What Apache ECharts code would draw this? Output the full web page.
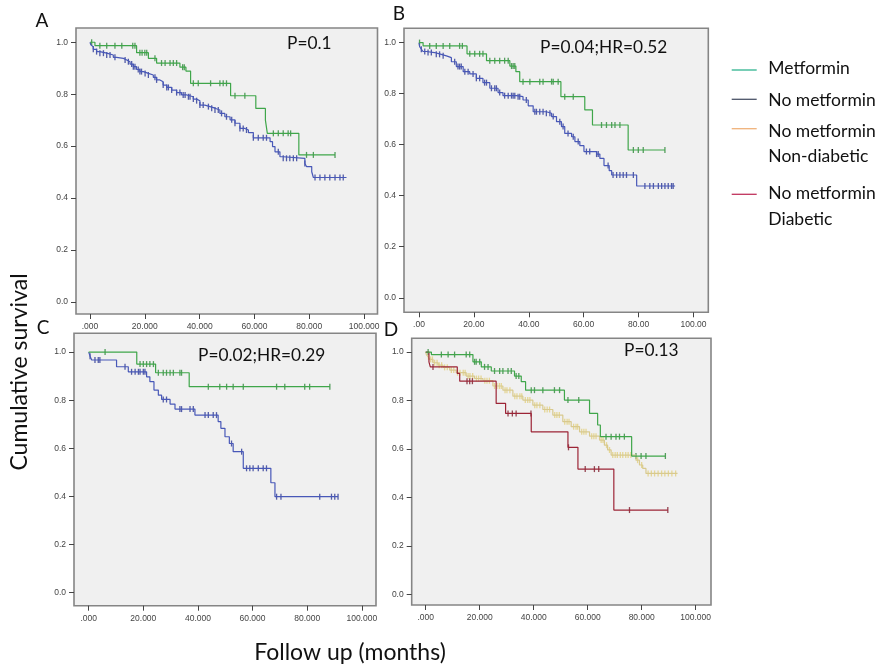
<!DOCTYPE html>
<html><head><meta charset="utf-8">
<script src="https://cdn.jsdelivr.net/npm/echarts@6/dist/echarts.min.js"></script>
<style>html,body{margin:0;padding:0;background:#fff}#c{width:878px;height:667px}</style>
</head><body><div id="c"></div>
<script>
// ---------- tick values ----------
const xTicks = [0, 20, 40, 60, 80, 100];
const yTicks = [0, 0.2, 0.4, 0.6, 0.8, 1.0];

// ---------- Panel A ----------
const A_met_t = [0, 1.8, 17.0, 21.3, 24.3, 32.8, 35.0, 36.7, 51.3, 60.5, 64.0, 64.7, 76.2, 89.4];
const A_met_s = [1.0, 0.987, 0.960, 0.938, 0.920, 0.904, 0.889, 0.842, 0.794, 0.745, 0.700, 0.649, 0.566, 0.566];
const A_met_c = [0.6, 3.6, 6.1, 9.1, 11.6, 15.6, 16.4, 18.2, 19.0, 20.0, 20.7, 23.7, 26.1, 27.4, 29.2, 30.4, 31.6, 33.8, 34.4, 37.7, 39.5, 44.0, 47.4, 48.6, 49.8, 52.9, 56.5, 66.9, 68.7, 70.5, 72.3, 73.2, 79.0, 81.5, 89.4];
const A_no_t = [0, 0.3, 0.6, 1.2, 2.4, 3.6, 6.1, 8.5, 9.7, 12.2, 13.4, 14.6, 15.8, 17.0, 18.2, 19.5, 21.3, 23.1, 24.3, 25.5, 26.7, 28.0, 29.8, 31.6, 33.4, 35.3, 37.7, 38.9, 40.1, 41.9, 43.8, 45.6, 47.4, 49.2, 51.1, 52.9, 54.7, 56.5, 57.8, 59.6, 65.7, 66.6, 67.5, 69.3, 70.5, 78.4, 79.0, 80.9, 81.5, 93.6];
const A_no_s = [1.0, 0.99, 0.983, 0.973, 0.964, 0.958, 0.951, 0.942, 0.938, 0.932, 0.925, 0.916, 0.906, 0.895, 0.887, 0.880, 0.874, 0.865, 0.855, 0.848, 0.835, 0.826, 0.816, 0.806, 0.797, 0.790, 0.781, 0.775, 0.758, 0.752, 0.746, 0.739, 0.726, 0.713, 0.701, 0.688, 0.668, 0.662, 0.652, 0.632, 0.617, 0.598, 0.578, 0.559, 0.553, 0.533, 0.521, 0.501, 0.479, 0.479];
const A_no_c = [1.2, 2.4, 3.6, 4.9, 6.1, 7.3, 9.1, 12.8, 14.0, 15.2, 15.8, 16.4, 17.6, 18.2, 18.8, 20.1, 21.3, 23.7, 24.3, 26.7, 28.0, 28.6, 29.8, 31.6, 32.8, 34.0, 34.7, 35.9, 36.5, 37.7, 38.9, 40.1, 41.3, 43.2, 44.4, 45.6, 46.8, 48.0, 49.8, 51.7, 52.9, 54.7, 55.9, 57.1, 59.6, 61.4, 63.2, 64.4, 68.7, 70.5, 71.7, 72.9, 74.2, 75.4, 78.4, 82.1, 83.9, 85.7, 87.5, 89.4, 91.2, 92.4];

// ---------- Panel B ----------
const B_met_t = [0, 1.5, 17.5, 24.6, 33.1, 35.3, 36.7, 51.7, 60.4, 63.2, 76.2, 89.6];
const B_met_s = [1.0, 0.987, 0.956, 0.929, 0.908, 0.886, 0.847, 0.788, 0.736, 0.677, 0.579, 0.579];
const B_met_c = [0.2, 3.9, 6.3, 8.8, 11.2, 14.8, 15.8, 18.5, 20.3, 22.1, 23.3, 25.8, 27.6, 29.4, 31.2, 32.5, 33.7, 34.3, 34.9, 37.9, 40.4, 44.0, 45.2, 48.3, 48.9, 50.7, 53.1, 56.2, 66.5, 68.3, 70.2, 71.4, 73.2, 78.1, 79.9, 81.7, 89.6];
const B_no_t = [0, 0.24, 0.85, 1.46, 2.7, 5.7, 8.1, 10.0, 11.8, 13.6, 16.1, 18.5, 20.9, 23.3, 25.8, 28.8, 30.6, 35.5, 37.9, 39.8, 41.6, 46.4, 48.3, 50.1, 51.9, 53.1, 55.6, 56.8, 58.6, 60.1, 64.7, 65.9, 67.4, 69.3, 70.2, 79.3, 93.3];
const B_no_s = [1.0, 0.984, 0.974, 0.965, 0.961, 0.954, 0.948, 0.941, 0.925, 0.906, 0.886, 0.877, 0.860, 0.843, 0.821, 0.804, 0.792, 0.788, 0.775, 0.752, 0.729, 0.723, 0.710, 0.690, 0.671, 0.644, 0.631, 0.612, 0.596, 0.573, 0.563, 0.546, 0.518, 0.498, 0.481, 0.438, 0.438];
const B_no_c = [0.85, 2.1, 3.3, 4.5, 6.3, 7.5, 8.8, 13.0, 14.2, 14.8, 15.4, 16.7, 17.9, 19.7, 20.9, 22.1, 23.9, 24.6, 26.4, 27.6, 28.2, 29.4, 31.2, 32.5, 33.7, 34.3, 34.9, 36.1, 36.7, 39.1, 42.2, 42.8, 44.0, 45.2, 46.4, 47.7, 48.9, 51.3, 52.5, 54.3, 56.2, 58.0, 61.0, 62.2, 64.7, 65.3, 68.9, 70.7, 72.0, 73.2, 74.4, 75.6, 78.1, 82.3, 84.1, 85.4, 87.2, 88.4, 89.6, 90.8, 92.0, 92.6];

// ---------- Panel C ----------
const C_met_t = [0, 17.6, 24.5, 36.8, 88.3];
const C_met_s = [1.0, 0.950, 0.914, 0.856, 0.856];
const C_met_c = [6.0, 18.8, 20.0, 21.2, 22.4, 23.7, 25.5, 27.3, 28.5, 29.8, 31.0, 33.4, 34.0, 43.8, 48.0, 50.5, 52.9, 56.6, 68.8, 71.8, 79.1, 80.9, 88.3];
const C_no_t = [0, 0.5, 1.1, 10.2, 14.5, 21.2, 22.4, 23.9, 25.5, 26.7, 29.8, 31.6, 38.9, 47.4, 48.4, 49.9, 51.5, 52.9, 56.6, 66.7, 68.2, 91.3];
const C_no_s = [1.0, 0.983, 0.967, 0.939, 0.918, 0.897, 0.877, 0.842, 0.821, 0.803, 0.784, 0.763, 0.738, 0.711, 0.683, 0.648, 0.620, 0.586, 0.517, 0.457, 0.399, 0.399];
const C_no_c = [0.5, 2.3, 3.5, 4.1, 13.3, 15.7, 17.0, 18.2, 18.8, 20.0, 20.6, 27.3, 28.5, 33.4, 34.0, 37.1, 38.3, 42.6, 43.8, 45.6, 46.8, 52.3, 56.0, 57.8, 59.0, 60.2, 62.1, 63.9, 65.1, 68.8, 70.4, 84.6, 88.9, 90.1, 91.3];

// ---------- Panel D ----------
const D_met_t = [0, 2.1, 17.5, 20.6, 24.3, 32.9, 35.4, 37.0, 51.4, 60.7, 63.7, 64.7, 76.3, 88.8];
const D_met_s = [1.0, 0.990, 0.960, 0.939, 0.922, 0.901, 0.878, 0.843, 0.802, 0.747, 0.699, 0.651, 0.571, 0.571];
const D_met_c = [0.9, 5.8, 8.3, 10.7, 15.0, 16.3, 18.1, 18.7, 20.0, 21.8, 23.1, 25.5, 27.4, 28.6, 30.5, 31.7, 33.5, 34.5, 39.1, 40.3, 43.4, 47.7, 49.6, 52.7, 56.7, 66.8, 68.7, 70.5, 71.8, 73.6, 77.9, 79.8, 81.6, 88.8];
const D_nd_t = [0, 0.25, 0.86, 1.5, 2.7, 4.6, 6.4, 8.9, 11.3, 15.0, 18.1, 21.2, 24.9, 28.6, 32.3, 36.0, 39.7, 43.4, 47.1, 50.8, 53.9, 57.0, 60.7, 64.4, 66.2, 67.4, 68.7, 77.9, 79.2, 80.4, 81.6, 93.3];
const D_nd_s = [1.0, 0.990, 0.981, 0.970, 0.956, 0.946, 0.937, 0.926, 0.915, 0.901, 0.891, 0.882, 0.860, 0.843, 0.818, 0.802, 0.781, 0.763, 0.740, 0.713, 0.692, 0.671, 0.653, 0.637, 0.616, 0.596, 0.575, 0.554, 0.534, 0.520, 0.499, 0.499];
const D_nd_c = [1.0, 1.8, 2.5, 3.3, 4.2, 5.0, 5.9, 7.0, 8.0, 9.5, 10.4, 11.8, 12.7, 13.9, 14.6, 15.7, 16.4, 17.4, 18.8, 19.6, 20.5, 21.9, 22.7, 23.6, 25.5, 26.4, 27.3, 28.0, 29.4, 30.1, 31.2, 33.0, 33.8, 34.9, 35.6, 36.9, 37.8, 38.6, 40.4, 41.2, 42.3, 44.1, 45.0, 45.9, 47.8, 48.6, 49.5, 51.5, 52.4, 53.1, 54.8, 55.7, 56.3, 57.8, 58.6, 59.4, 61.5, 62.3, 63.1, 65.0, 65.7, 67.0, 68.1, 69.3, 70.2, 71.0, 72.1, 73.0, 74.1, 75.0, 76.0, 78.5, 80.0, 82.4, 83.6, 84.8, 86.1, 87.4, 88.6, 89.9, 91.2, 92.6];
const D_dm_t = [0, 1.2, 1.7, 11.7, 12.6, 26.1, 29.6, 39.1, 52.7, 56.4, 69.7, 89.7];
const D_dm_s = [1.0, 0.960, 0.939, 0.912, 0.880, 0.788, 0.747, 0.671, 0.607, 0.517, 0.348, 0.348];
const D_dm_c = [2.7, 15.3, 16.3, 17.3, 30.5, 32.1, 33.5, 39.0, 52.9, 59.1, 62.5, 64.1, 75.5, 89.7];

// ---------- text ----------
const panelLetters = ['A', 'B', 'C', 'D'];
const pTexts = ['P=0.1', 'P=0.04;HR=0.52', 'P=0.02;HR=0.29', 'P=0.13'];
const legendNames = ['Metformin', 'No metformin', 'No metformin\nNon-diabetic', 'No metformin\nDiabetic'];
const xTitle = 'Follow up (months)';
const yTitle = 'Cumulative survival';

// ---------- layout ----------
const panels = [
  {left: 76, top: 28, width: 301.5, height: 286, xmin: -5.11, xmax: 104.9, ymin: -0.047, ymax: 1.055, dec: 3},
  {left: 404, top: 28.3, width: 304.3, height: 284, xmin: -5.46, xmax: 105.4, ymin: -0.057, ymax: 1.056, dec: 2},
  {left: 74, top: 333.3, width: 302, height: 272.4, xmin: -5.38, xmax: 105.2, ymin: -0.054, ymax: 1.078, dec: 3},
  {left: 411.7, top: 338.3, width: 299.3, height: 266.7, xmin: -5.19, xmax: 105.7, ymin: -0.044, ymax: 1.057, dec: 3}
];

const GREEN = '#3fa64a', GREEN_C = '#2d8a38';
const BLUE = '#4858b8', BLUE_C = '#2b3796';
const BEIGE = '#d8c98e', BEIGE_C = '#e2cf7e';
const RED = '#9c2436', RED_C = '#7e1a2a';

function stepAt(ts, ss, t) {
  let v = ss[0];
  for (let i = 0; i < ts.length; i++) if (ts[i] <= t) v = ss[i];
  return v;
}

const curves = [
  [0, A_no_t, A_no_s, A_no_c, BLUE, BLUE_C],
  [0, A_met_t, A_met_s, A_met_c, GREEN, GREEN_C],
  [1, B_no_t, B_no_s, B_no_c, BLUE, BLUE_C],
  [1, B_met_t, B_met_s, B_met_c, GREEN, GREEN_C],
  [2, C_no_t, C_no_s, C_no_c, BLUE, BLUE_C],
  [2, C_met_t, C_met_s, C_met_c, GREEN, GREEN_C],
  [3, D_nd_t, D_nd_s, D_nd_c, BEIGE, BEIGE_C],
  [3, D_dm_t, D_dm_s, D_dm_c, RED, RED_C],
  [3, D_met_t, D_met_s, D_met_c, GREEN, GREEN_C]
];

const series = [];
curves.forEach(([g, ts, ss, cs, col, ccol]) => {
  series.push({
    type: 'line', xAxisIndex: g, yAxisIndex: g, step: 'end', showSymbol: false, symbol: 'none',
    data: ts.map((t, i) => [t, ss[i]]), lineStyle: {color: col, width: 1.2}, silent: true, animation: false
  });
  series.push({
    type: 'scatter', xAxisIndex: g, yAxisIndex: g, symbol: 'rect', symbolSize: [1.3, 6],
    data: cs.map(t => [t, stepAt(ts, ss, t)]), itemStyle: {color: ccol}, silent: true, animation: false
  });
});

const grid = panels.map(p => ({
  left: p.left, top: p.top, width: p.width, height: p.height, show: true,
  backgroundColor: '#f0f0f0', borderColor: '#858585', borderWidth: 1.6
}));
const xAxis = panels.map((p, i) => ({
  gridIndex: i, type: 'value', min: p.xmin, max: p.xmax,
  axisLine: {show: false, onZero: false}, splitLine: {show: false},
  axisTick: {show: true, customValues: xTicks, length: 5, lineStyle: {color: '#444', width: 1}},
  axisLabel: {customValues: xTicks, margin: 8, fontSize: 8.5, color: '#444', fontFamily: 'Liberation Sans',
    formatter: v => v === 0 ? '.' + '0'.repeat(p.dec) : v.toFixed(p.dec)}
}));
const yAxis = panels.map((p, i) => ({
  gridIndex: i, type: 'value', min: p.ymin, max: p.ymax,
  axisLine: {show: false, onZero: false}, splitLine: {show: false},
  axisTick: {show: true, customValues: yTicks, length: 5, lineStyle: {color: '#444', width: 1}},
  axisLabel: {customValues: yTicks, margin: 8, fontSize: 8.5, color: '#444', fontFamily: 'Liberation Sans',
    formatter: v => v.toFixed(1)}
}));

const FONT = 'Lato';
const graphic = [];
const letterPos = [[42, 21], [399, 14], [43, 328], [391, 330]];
panelLetters.forEach((L, i) => graphic.push({type: 'text', x: letterPos[i][0], y: letterPos[i][1],
  style: {text: L, font: '19px ' + FONT, fill: '#111', align: 'center', verticalAlign: 'middle'}}));
const pPos = [[287, 43], [540, 47], [198, 355], [624, 350]];
pTexts.forEach((t, i) => graphic.push({type: 'text', x: pPos[i][0], y: pPos[i][1],
  style: {text: t, font: '17.3px ' + FONT, fill: '#111', align: 'left', verticalAlign: 'middle'}}));
graphic.push({type: 'text', x: 350, y: 653, style: {text: xTitle, font: '23px ' + FONT, fill: '#111', align: 'center', verticalAlign: 'middle'}});
graphic.push({type: 'text', x: 20, y: 372, rotation: Math.PI / 2, style: {text: yTitle, font: '23px ' + FONT, fill: '#111', align: 'center', verticalAlign: 'middle'}});

const legColors = ['#2fb38f', '#4b5468', '#f0b27a', '#c0335c'];
const legLineY = [70, 99.3, 128.7, 194.3];
const legTextY = [65, 96.7, 127.3, 190];
legendNames.forEach((n, i) => {
  graphic.push({type: 'line', shape: {x1: 731.7, y1: legLineY[i], x2: 756.7, y2: legLineY[i]}, style: {stroke: legColors[i], lineWidth: 1.3}});
  graphic.push({type: 'text', x: 768.3, y: legTextY[i], style: {text: n, font: '17.5px ' + FONT, fill: '#111', align: 'left', verticalAlign: 'top', lineHeight: 25.5, y: -9}});
});

const chart = echarts.init(document.getElementById('c'), null, {renderer: 'canvas'});
chart.setOption({animation: false, backgroundColor: '#fff', grid, xAxis, yAxis, series, graphic});
</script></body></html>
